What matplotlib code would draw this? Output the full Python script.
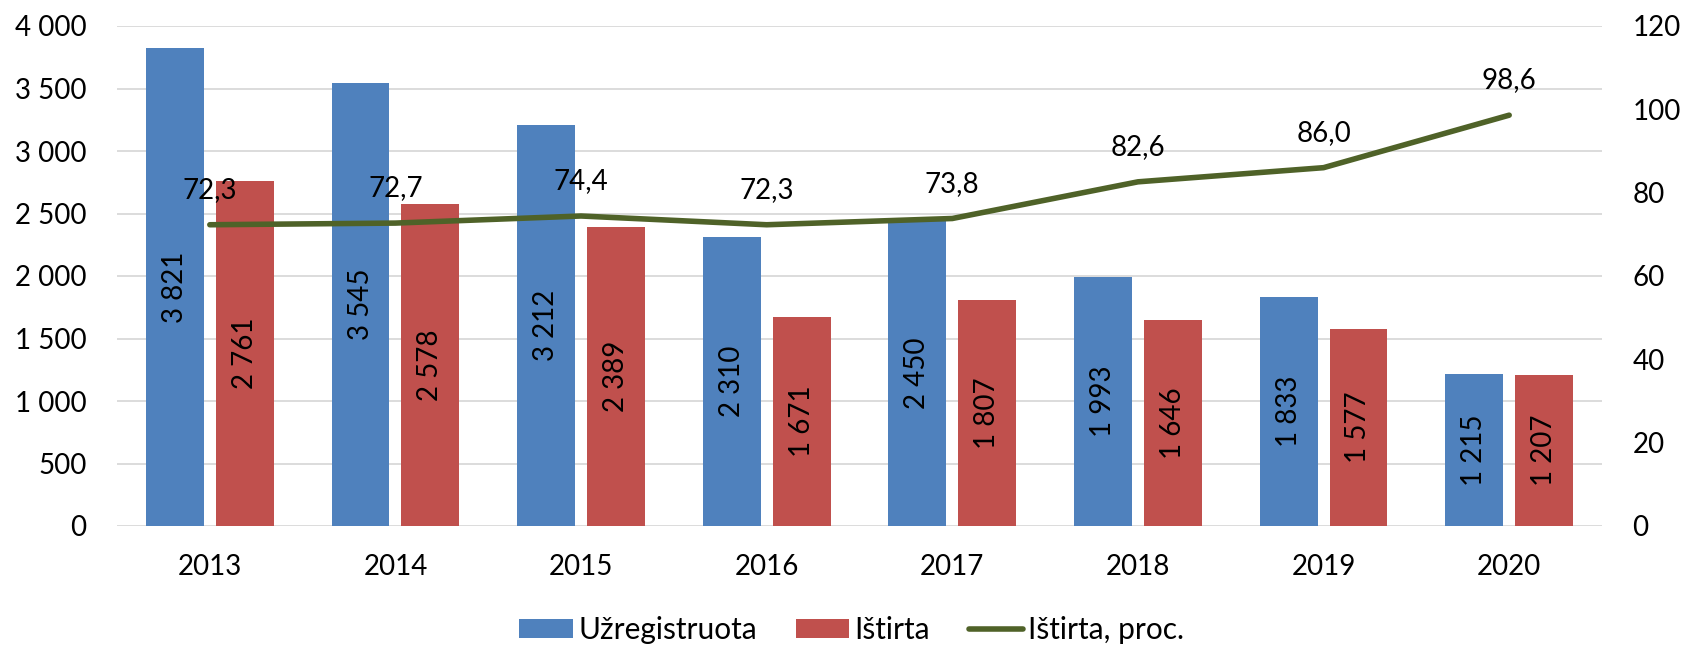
import matplotlib
matplotlib.use("Agg")
import matplotlib.pyplot as plt
import numpy as np
from matplotlib.ticker import FuncFormatter

plt.rcParams['font.family'] = ['Lato', 'DejaVu Sans']

## duomenys
metai = ['2013', '2014', '2015', '2016', '2017', '2018', '2019', '2020']
uzregistruota = [3821, 3545, 3212, 2310, 2450, 1993, 1833, 1215]
istirta = [2761, 2578, 2389, 1671, 1807, 1646, 1577, 1207]
istirta_proc = [72.3, 72.7, 74.4, 72.3, 73.8, 82.6, 86.0, 98.6]

melyna = '#4F81BD'
raudona = '#C0504D'
zalia = '#4F6228'
fs = 20


def tukst(v, pos=None):
    return '{:,.0f}'.format(v).replace(',', ' ')


fig = plt.figure(figsize=(16.85, 6.49), dpi=100)
ax = fig.add_axes([117 / 1685, 1 - 526 / 649, (1602 - 117) / 1685, 500 / 649])
ax2 = ax.twinx()

x = np.arange(len(metai))
w = 0.312
off = 0.188
b1 = ax.bar(x - off, uzregistruota, w, color=melyna, label='Užregistruota', zorder=2)
b2 = ax.bar(x + off, istirta, w, color=raudona, label='Ištirta', zorder=2)

for rects, vals in ((b1, uzregistruota), (b2, istirta)):
    for r, v in zip(rects, vals):
        ax.text(r.get_x() + r.get_width() / 2, v / 2, tukst(v), rotation=90,
                ha='center', va='center', fontsize=fs, color='black', zorder=3)

ax.set_ylim(0, 4000)
ax.set_yticks(np.arange(0, 4001, 500))
ax.yaxis.set_major_formatter(FuncFormatter(tukst))
ax.set_xlim(-0.5, len(metai) - 0.5)
ax.set_xticks(x)
ax.set_xticklabels(metai)
ax.grid(axis='y', color='#D9D9D9', lw=1.3, zorder=0)
ax.set_axisbelow(True)

ln, = ax2.plot(x, istirta_proc, color=zalia, lw=4, solid_capstyle='round',
               label='Ištirta, proc.', zorder=4)
for xi, v in zip(x, istirta_proc):
    ax2.annotate('{:.1f}'.format(v).replace('.', ','), (xi, v), xytext=(0, 25),
                 textcoords='offset points', ha='center', va='center', fontsize=fs)
ax2.set_ylim(0, 120)
ax2.set_yticks(np.arange(0, 121, 20))

for a in (ax, ax2):
    for s in a.spines.values():
        s.set_visible(False)
    a.tick_params(length=0, labelsize=fs, pad=22)
ax.tick_params(axis='x', pad=20)

ax.set_zorder(ax2.get_zorder() - 1)
ax.patch.set_visible(False)

fig.legend(handles=[b1, b2, ln], loc='center', bbox_to_anchor=(0.5053, 1 - 630 / 649),
           ncol=3, frameon=False, fontsize=21.5, handlelength=1.8, handleheight=0.62,
           handletextpad=0.17, columnspacing=1.3)

fig.savefig('out.png', dpi=100)
